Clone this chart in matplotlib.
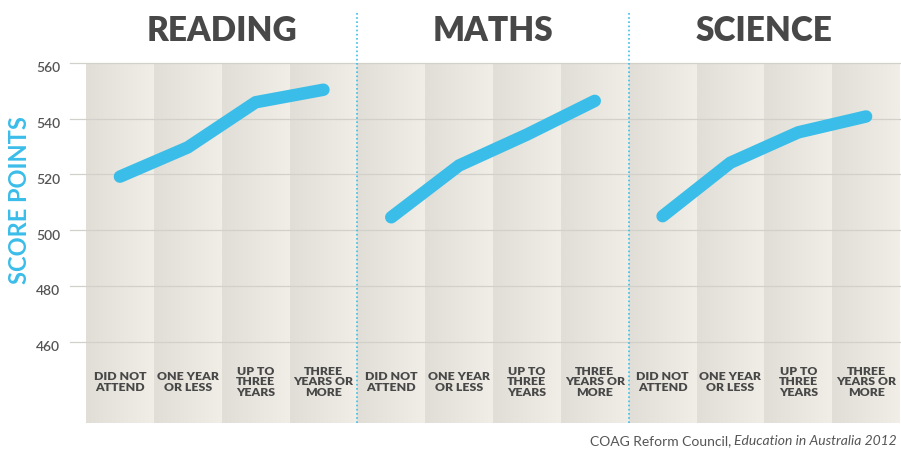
import numpy as np
import matplotlib
matplotlib.use("Agg")
import matplotlib.pyplot as plt
from matplotlib.lines import Line2D
from matplotlib.colors import LinearSegmentedColormap

subjects = ["READING", "MATHS", "SCIENCE"]
categories = ["DID NOT\nATTEND", "ONE YEAR\nOR LESS", "UP TO\nTHREE\nYEARS", "THREE\nYEARS OR\nMORE"]
reading = [519.2, 529.7, 545.9, 550.4]
maths = [504.6, 523.2, 534.3, 546.4]
science = [505.0, 524.2, 535.1, 540.8]
series = [reading, maths, science]
yticks = [460, 480, 500, 520, 540, 560]
source_plain = "COAG Reform Council, "
source_italic = "Education in Australia 2012"

W, H = 901, 452
fig = plt.figure(figsize=(W / 100, H / 100), dpi=100)
fig.patch.set_facecolor("white")

px_left, px_right = 70, 900
px_top, px_bot = 64, 424
col_start = 86
ncol = 12
colw = (px_right - col_start) / ncol
xmin = -(col_start - px_left) / colw
ymax = 560
ppu = 55.7 / 20
ymin = ymax - (px_bot - px_top) / ppu

ax = fig.add_axes([px_left / W, 1 - px_bot / H, (px_right - px_left) / W, (px_bot - px_top) / H])
ax.set_xlim(xmin, ncol)
ax.set_ylim(ymin, ymax)
ax.axis("off")

cmap = LinearSegmentedColormap.from_list("col", ["#e0ded6", "#f0eee6"])
grad = np.linspace(0, 1, 64).reshape(1, -1)
for i in range(ncol):
    ax.imshow(grad, cmap=cmap, aspect="auto", extent=[i, i + 1, ymin, ymax],
              zorder=0, interpolation="bilinear")

for yv in yticks:
    ax.plot([xmin, ncol], [yv, yv], color="#d2d0ca", lw=0.9, zorder=1, clip_on=False)
    ax.text(-0.38, yv - 1.6, str(yv), ha="right", va="center", fontsize=10,
            color="#555555", family="Lato", fontweight="semibold")

line_color = "#3bbde9"
for p, vals in enumerate(series):
    xs = [p * 4 + k + 0.5 for k in range(len(vals))]
    ax.plot(xs, vals, color=line_color, lw=9, solid_capstyle="round",
            solid_joinstyle="round", zorder=3)
    for k, cat in enumerate(categories):
        ax.text(p * 4 + k + 0.5, 560 - (382 - px_top) / ppu, cat, ha="center", va="center",
                fontsize=8.8, color="#484848", family="Lato", fontweight="heavy",
                linespacing=0.95)
    fig.text((col_start + colw * (p * 4 + 2)) / W, 1 - 31 / H, subjects[p],
             ha="center", va="center", fontsize=24, color="#484848",
             family="Lato", fontweight="heavy")

for p in [1, 2]:
    xf = (col_start + colw * p * 4) / W
    fig.add_artist(Line2D([xf, xf], [1 - 14 / H, 1 - px_bot / H], color="#3bbde9",
                          lw=1.2, linestyle=(0, (1, 1.5)), transform=fig.transFigure))

fig.text(20 / W, 1 - 200 / H, "SCORE POINTS", rotation=90, ha="center", va="center",
         fontsize=17, color=line_color, family="Lato", fontweight="bold")

t2 = fig.text(897 / W, 1 - 441 / H, source_italic, ha="right", va="center",
              fontsize=10, color="#555555", family="Lato", style="italic")
fig.canvas.draw()
bb = t2.get_window_extent()
fig.text(bb.x0 / W, 1 - 441 / H, source_plain, ha="right", va="center",
         fontsize=10, color="#555555", family="Lato")

fig.savefig("out.png", dpi=100, facecolor="white")
